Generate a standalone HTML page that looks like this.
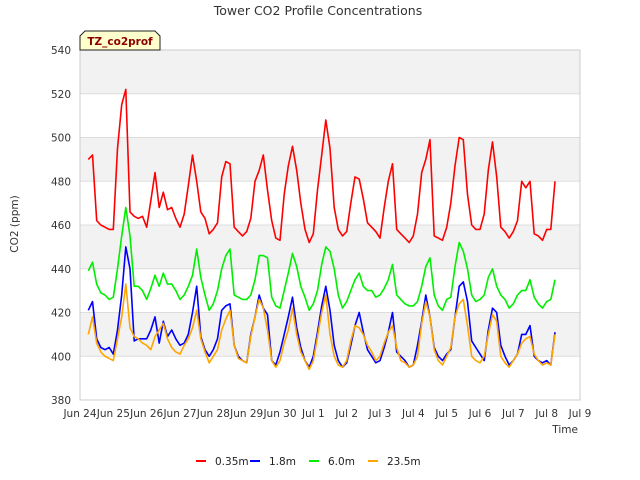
<!DOCTYPE html>
<html><head><meta charset="utf-8"><style>
body{margin:0;background:#fff;}
svg{display:block;font-family:"DejaVu Sans","Liberation Sans",sans-serif;}
</style></head><body>
<svg id="chart" width="640" height="480" viewBox="0 0 640 480">
<text x="318" y="15" text-anchor="middle" font-size="12.5" fill="#333">Tower CO2 Profile Concentrations</text>
<g id="bands"></g>
<g id="yaxis"></g>
<g id="xaxis"></g>
<text transform="translate(18,224) rotate(-90)" text-anchor="middle" font-size="10.5" fill="#333">CO2 (ppm)</text>
<text x="578" y="433" text-anchor="end" font-size="10.5" fill="#333">Time</text>
<g id="series"></g>
<g>
<path d="M80,50 L80,36 L85,31 L155,31 L160,36 L160,50 Z" fill="#ffffcc" stroke="#222" stroke-width="1"/>
<text x="120" y="45" text-anchor="middle" font-size="10.5" font-weight="bold" fill="#8b0000">TZ_co2prof</text>
</g>
<g id="legend"></g>
</svg>
<script>
const t0 = 0.25, step = 0.125;
const xTickLabels = ["Jun 24","Jun 25","Jun 26","Jun 27","Jun 28","Jun 29","Jun 30","Jul 1","Jul 2","Jul 3","Jul 4","Jul 5","Jul 6","Jul 7","Jul 8","Jul 9"];
const yTicks = [380,400,420,440,460,480,500,520,540];
const seriesNames = ["0.35m","1.8m","6.0m","23.5m"];
const seriesColors = ["#ff0000","#0000ff","#00ee00","#ffa500"];
const red = [490,492,462,460,459,458,
458,495,515,522,466,464,463,464,
459,471,484,468,475,467,468,463,
459,465,478,492,480,466,463,456,
458,461,482,489,488,459,457,455,
457,463,480,485,492,476,462,454,
453,474,487,496,485,470,458,452,
456,476,492,508,495,468,458,455,
457,470,482,481,472,461,459,457,
454,468,480,488,458,456,454,452,
455,465,484,490,499,455,454,453,
459,470,487,500,499,474,460,458,
458,465,485,498,482,459,457,454,
457,462,480,477,480,456,455,453,
458,458,480];
const blue = [421,425,408,404,403,404,
401,412,428,450,440,407,408,408,
408,412,418,406,416,409,412,408,
405,406,410,420,432,409,403,400,
403,408,421,423,424,405,400,398,
397,410,418,428,422,419,398,396,
402,410,418,427,413,404,398,395,
400,411,423,432,421,405,398,395,
397,405,414,420,411,403,400,397,
398,404,411,420,402,400,398,395,
396,405,416,428,418,404,400,398,
401,403,418,432,434,425,407,404,
401,398,412,422,420,405,400,396,
398,401,410,410,414,400,398,397,
398,396,411];
const green = [439,443,433,429,428,426,
427,440,455,468,455,432,432,430,
426,431,437,432,438,433,433,430,
426,428,432,437,449,436,428,421,
424,430,440,446,449,428,427,426,
426,428,435,446,446,445,427,423,
422,430,438,447,441,432,427,421,
424,430,442,450,448,440,428,422,
425,430,435,438,432,430,430,427,
428,431,435,442,428,426,424,423,
423,425,432,441,445,428,423,421,
426,427,441,452,448,440,428,425,
426,428,436,440,432,428,426,422,
424,428,430,430,435,427,424,422,
425,426,435];
const orange = [410,418,406,402,400,399,
398,408,418,433,413,409,408,406,
405,403,409,412,415,408,404,402,
401,405,408,413,421,408,402,397,
400,403,412,417,421,405,399,398,
397,409,418,426,422,412,398,395,
398,406,412,422,410,402,398,394,
398,409,420,428,410,400,396,395,
398,407,414,413,410,405,402,398,
400,406,411,414,404,398,397,395,
396,400,415,425,418,403,398,396,
400,404,418,424,426,414,400,398,
397,400,410,419,416,400,397,395,
398,401,406,408,409,401,398,396,
397,396,410];

const NS = "http://www.w3.org/2000/svg";
const L = 80, R = 580, T = 50, B = 400;
const xScale = d => L + d * (R - L) / 15;
const yScale = v => B - (v - 380) * (B - T) / 160;
function mk(tag, attrs, parent) {
  const e = document.createElementNS(NS, tag);
  for (const k in attrs) e.setAttribute(k, attrs[k]);
  parent.appendChild(e);
  return e;
}
const bands = document.getElementById("bands");
for (let i = 0; i < yTicks.length - 1; i++) {
  const r = mk("rect", {x: L, y: yScale(yTicks[i+1]), width: R - L, height: yScale(yTicks[i]) - yScale(yTicks[i+1]), fill: (i % 2 === 1) ? "#f2f2f2" : "#ffffff"}, bands);
  
  
}
const yaxis = document.getElementById("yaxis");
yTicks.forEach(v => {
  const g = mk("line", {x1: L, x2: R, y1: yScale(v), y2: yScale(v), stroke: "#dddddd", "stroke-width": 1}, yaxis);
  
  
  const t = mk("text", {x: 71, y: yScale(v) + 4, "text-anchor": "end", "font-size": 10.5, fill: "#333"}, yaxis);
  t.textContent = v;
  
  
});
const frame = mk("rect", {x: L, y: T, width: R - L, height: B - T, fill: "none", stroke: "#cccccc", "stroke-width": 1}, yaxis);


const xaxis = document.getElementById("xaxis");
xTickLabels.forEach((lab, i) => {
  const t = mk("text", {x: xScale(i), y: 417, "text-anchor": "middle", "font-size": 10.5, fill: "#333"}, xaxis);
  t.textContent = lab;
  
  
});
const series = document.getElementById("series");
[red, blue, green, orange].forEach((arr, si) => {
  const pts = arr.map((v, i) => xScale(t0 + i * step).toFixed(1) + "," + yScale(v).toFixed(1)).join(" ");
  const p = mk("polyline", {points: pts, fill: "none", stroke: seriesColors[si], "stroke-width": 1.6, "stroke-linejoin": "round"}, series);
  
  
});
const legend = document.getElementById("legend");
const legX = [196, 250, 309, 368];
seriesNames.forEach((n, i) => {
  const g = mk("g", {}, legend);
  
  
  mk("line", {x1: legX[i], x2: legX[i] + 10, y1: 461, y2: 461, stroke: seriesColors[i], "stroke-width": 2}, g);
  const t = mk("text", {x: legX[i] + 19, y: 465, "font-size": 10.5, fill: "#222"}, g);
  t.textContent = n;
});
</script>
</body></html>
